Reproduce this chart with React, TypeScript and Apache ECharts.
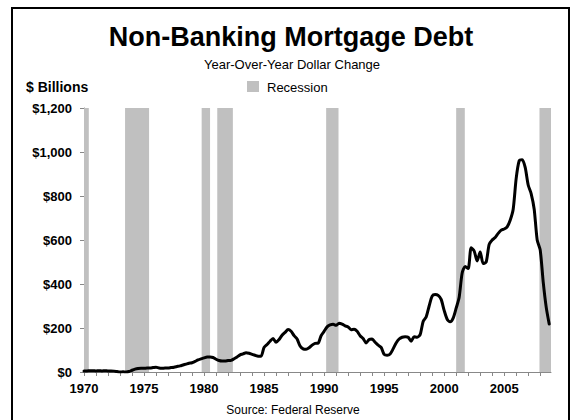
import React, { useEffect, useRef } from "react";
import * as echarts from "echarts";

const FONT = "'Liberation Sans', Arial, sans-serif";

const startYear = 1970;
// Quarterly year-over-year change, $ billions, 1970Q1 .. 2008Q4
const values = [
  5, 5, 6, 6, // 1970
  5, 6, 5, 6, // 1971
  5, 5, 4, 2, // 1972
  0, 1, 0, 2, // 1973
  8, 13, 16, 17, // 1974
  17, 18, 18, 20, // 1975
  22, 18, 17, 18, // 1976
  18, 20, 22, 25, // 1977
  28, 32, 36, 40, // 1978
  42, 48, 55, 60, // 1979
  64, 68, 68, 66, // 1980
  58, 52, 50, 50, // 1981
  52, 53, 60, 68, // 1982
  78, 82, 88, 85, // 1983
  80, 76, 72, 72, // 1984
  112, 125, 140, 152, // 1985
  135, 148, 167, 180, // 1986
  193, 185, 165, 150, // 1987
  118, 105, 103, 110, // 1988
  122, 130, 131, 165, // 1989
  185, 205, 214, 217, // 1990
  212, 222, 218, 210, // 1991
  205, 192, 194, 185, // 1992
  165, 152, 132, 148, // 1993
  150, 135, 122, 112, // 1994
  80, 76, 82, 105, // 1995
  132, 150, 158, 160, // 1996
  158, 140, 160, 158, // 1997
  170, 230, 250, 300, // 1998
  345, 352, 348, 330, // 1999
  280, 240, 228, 245, // 2000
  290, 340, 450, 480, // 2001
  470, 565, 550, 505, // 2002
  545, 493, 500, 580, // 2003
  600, 611, 630, 645, // 2004
  650, 660, 690, 740, // 2005
  880, 960, 965, 930, // 2006
  850, 810, 740, 600, // 2007
  555, 410, 295, 218, // 2008
];

const recessions: [number, number][] = [
  [1970.0, 1970.4],
  [1973.42, 1975.42],
  [1979.8, 1980.5],
  [1981.1, 1982.4],
  [1990.17, 1991.2],
  [2001.0, 2001.72],
  [2007.94, 2008.9],
];

const xLabelYears = [1970, 1975, 1980, 1985, 1990, 1995, 2000, 2005];
const tickYears = [
  1970, 1971, 1972, 1973, 1974, 1975, 1976, 1977, 1978, 1979,
  1980, 1981, 1982, 1983, 1984, 1985, 1986, 1987, 1988, 1989,
  1990, 1991, 1992, 1993, 1994, 1995, 1996, 1997, 1998, 1999,
  2000, 2001, 2002, 2003, 2004, 2005, 2006, 2007, 2008,
];

export default function App() {
  const ref = useRef<HTMLDivElement>(null);
  useEffect(() => {
    if (!ref.current) return;
    const chart = echarts.init(ref.current, null, { renderer: "svg" });
    const lineData = values.map((v, i) => [startYear + i / 4, v]);
    chart.setOption({
      animation: false,
      backgroundColor: "#fff",
      textStyle: { fontFamily: FONT },
      grid: { left: 84, right: 20, top: 108, bottom: 48, containLabel: false },
      xAxis: {
        type: "value",
        min: 1970,
        max: 2008.9,
        interval: 1,
        axisLine: { show: true, lineStyle: { color: "#888", width: 1 } },
        axisTick: {
          show: true,
          inside: false,
          length: 4,
          lineStyle: { color: "#888" },
          customValues: tickYears,
        },
        axisLabel: {
          customValues: xLabelYears,
          formatter: (v: number) => (v % 5 === 0 ? String(v) : ""),
          fontWeight: "bold",
          fontSize: 13,
          color: "#000",
          fontFamily: FONT,
          margin: 10,
        },
        splitLine: { show: false },
      },
      yAxis: {
        type: "value",
        min: 0,
        max: 1200,
        interval: 200,
        axisLine: { show: true, lineStyle: { color: "#888", width: 1 } },
        axisTick: { show: true, inside: false, length: 4, lineStyle: { color: "#888" } },
        axisLabel: {
          formatter: (v: number) => "$" + v.toLocaleString("en-US"),
          fontWeight: "bold",
          fontSize: 13,
          color: "#000",
          fontFamily: FONT,
          margin: 12,
        },
        splitLine: { show: false },
      },
      series: [
        {
          type: "line",
          name: "Recession",
          data: [],
          z: 1,
          silent: true,
          markArea: {
            silent: true,
            itemStyle: { color: "#c0c0c0", opacity: 1 },
            data: recessions.map(([a, b]) => [{ xAxis: a }, { xAxis: b }]),
          },
        },
        {
          type: "line",
          name: "Debt",
          data: lineData,
          z: 3,
          showSymbol: false,
          smooth: 0.25,
          lineStyle: { color: "#000", width: 3, join: "round", cap: "round" },
        },
      ],
      graphic: [
        {
          type: "rect",
          silent: true,
          shape: { x: 12, y: 8, width: 557, height: 430 },
          style: { fill: "none", stroke: "#000", lineWidth: 2 },
        },
        {
          type: "text",
          x: 291,
          y: 37,
          style: {
            text: "Non-Banking Mortgage Debt",
            fontSize: 27,
            fontWeight: "bold",
            fontFamily: FONT,
            fill: "#000",
            align: "center",
            verticalAlign: "middle",
          },
        },
        {
          type: "text",
          x: 292,
          y: 64,
          style: {
            text: "Year-Over-Year Dollar Change",
            fontSize: 13,
            fontFamily: FONT,
            fill: "#000",
            align: "center",
            verticalAlign: "middle",
          },
        },
        {
          type: "text",
          x: 26,
          y: 87,
          style: {
            text: "$ Billions",
            fontSize: 14,
            fontWeight: "bold",
            fontFamily: FONT,
            fill: "#000",
            align: "left",
            verticalAlign: "middle",
          },
        },
        {
          type: "rect",
          shape: { x: 247, y: 81, width: 12, height: 11 },
          style: { fill: "#c0c0c0" },
        },
        {
          type: "text",
          x: 267,
          y: 87,
          style: {
            text: "Recession",
            fontSize: 13,
            fontFamily: FONT,
            fill: "#000",
            align: "left",
            verticalAlign: "middle",
          },
        },
        {
          type: "text",
          x: 293,
          y: 410,
          style: {
            text: "Source: Federal Reserve",
            fontSize: 12,
            fontFamily: FONT,
            fill: "#000",
            align: "center",
            verticalAlign: "middle",
          },
        },
      ],
    });
    return () => chart.dispose();
  }, []);
  return (
    <div
      ref={ref}
      style={{ position: "fixed", left: 0, top: 0, width: 571, height: 420, background: "#fff" }}
    />
  );
}
